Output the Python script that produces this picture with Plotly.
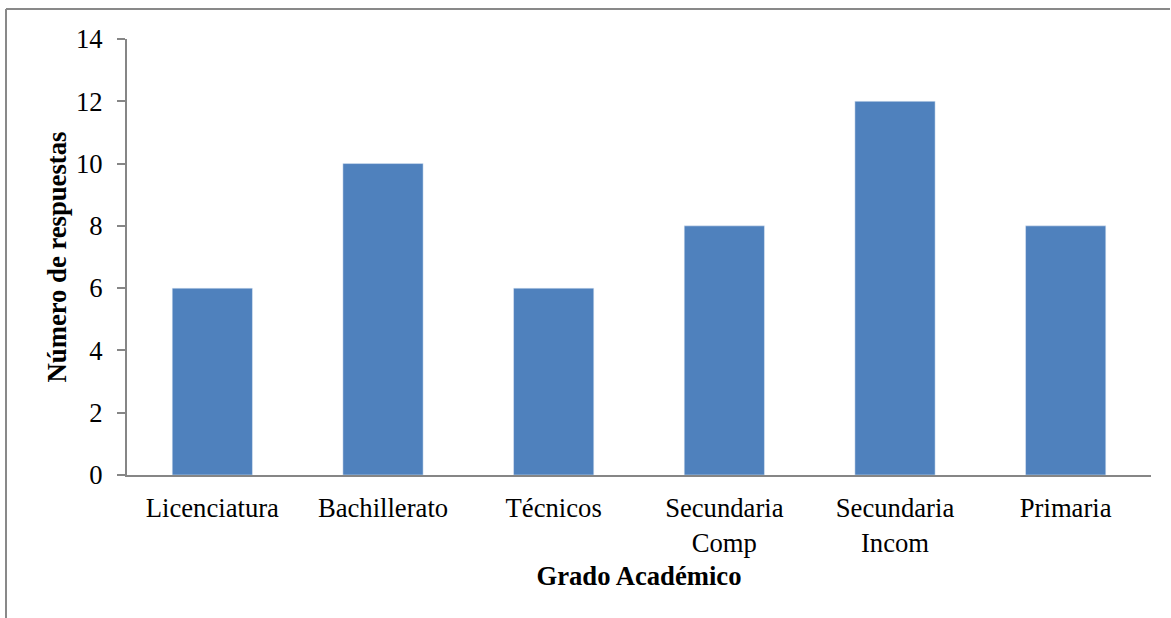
import plotly.graph_objects as go

categories = ["Licenciatura", "Bachillerato", "Técnicos", "Secundaria<br>Comp", "Secundaria<br>Incom", "Primaria"]
values = [6, 10, 6, 8, 12, 8]
y_ticks = [0, 2, 4, 6, 8, 10, 12, 14]

W, H = 1171, 618
L, R, T, B = 127, 20, 39, 143
pw, ph = W - L - R, H - T - B

fig = go.Figure(go.Bar(x=categories, y=values, marker_color="#4F81BD", width=0.47))

font = dict(family="Liberation Serif, Times New Roman, serif", size=26.67, color="black")

fig.update_layout(
    width=W, height=H,
    margin=dict(l=L, r=R, t=T, b=B, pad=0),
    plot_bgcolor="white", paper_bgcolor="white",
    font=font,
    showlegend=False,
    xaxis=dict(
        showline=True, linecolor="#868686", linewidth=2,
        ticks="", showgrid=False, ticklabelstandoff=8,
        title=dict(text="<b>Grado Académico</b>", font=font, standoff=10),
    ),
    yaxis=dict(
        range=[0, 14], tickvals=y_ticks, showline=True, linecolor="#868686", linewidth=2,
        ticks="outside", ticklen=8, tickcolor="#868686", tickwidth=2,
        showgrid=False, zeroline=False, ticklabelstandoff=9,
        title=dict(text="<b>Número de respuestas</b>", font=font, standoff=2),
    ),
)

def px(x): return (x - L) / pw
def py(y): return 1 - (y - T) / ph

fig.add_shape(type="line", xref="paper", yref="paper", x0=px(6), x1=px(6), y0=py(9), y1=py(640),
              line=dict(color="#898989", width=2))
fig.add_shape(type="line", xref="paper", yref="paper", x0=px(6), x1=px(1170), y0=py(9), y1=py(9),
              line=dict(color="#898989", width=2))
# extend x-axis line to the left of y-axis like the reference
fig.add_shape(type="line", xref="paper", yref="paper", x0=px(119), x1=0, y0=0, y1=0,
              line=dict(color="#868686", width=2))

fig.write_html("out.html", config={"displayModeBar": False},
               post_script="document.body.style.margin='0';document.body.style.overflow='hidden';")
